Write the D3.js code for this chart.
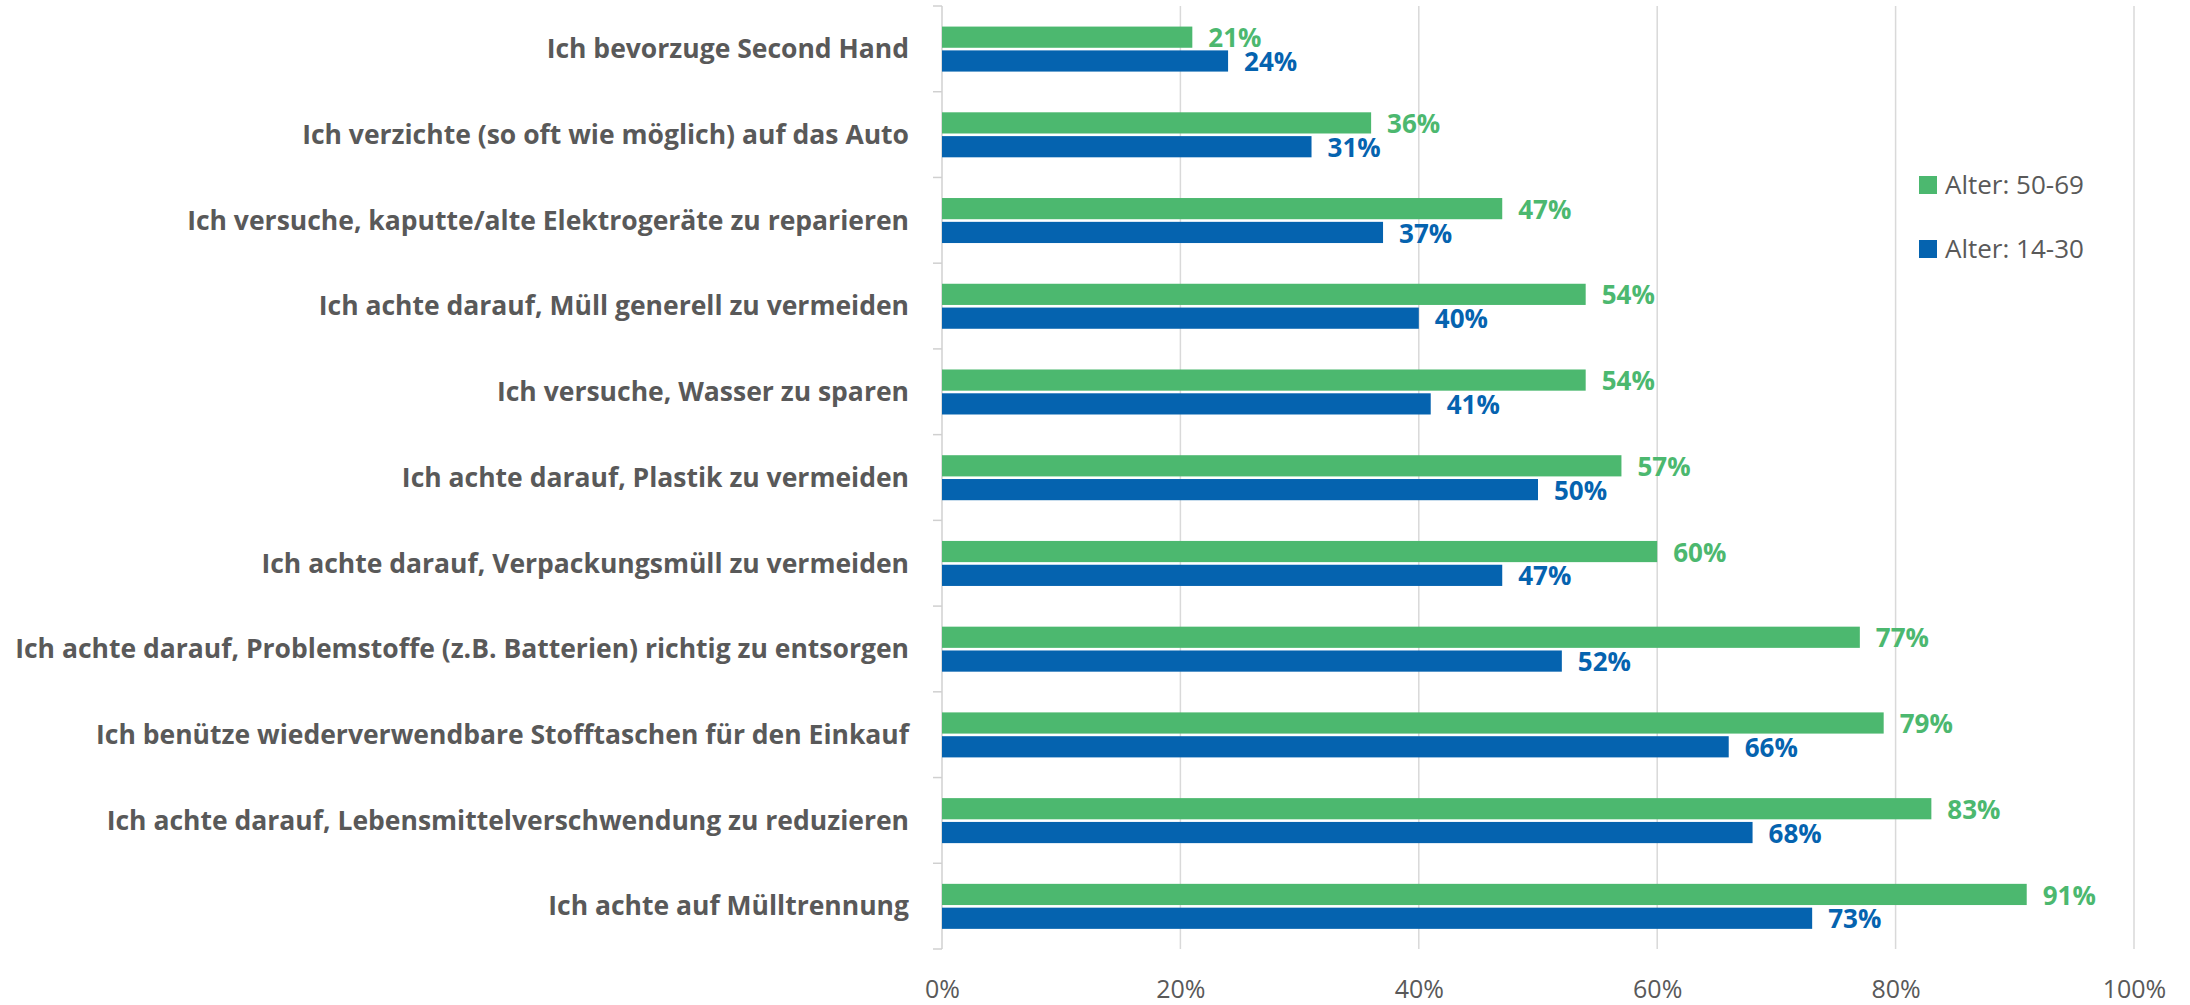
<!DOCTYPE html>
<html>
<head>
<meta charset="utf-8">
<script src="https://cdn.jsdelivr.net/npm/d3@7"></script>
<style>
  html, body { margin: 0; padding: 0; background: #fff; }
  svg { display: block; }
</style>
</head>
<body>
<div class="canvas"></div>
<script>
// data
const categories = [
  'Ich bevorzuge Second Hand',
  'Ich verzichte (so oft wie möglich) auf das Auto',
  'Ich versuche, kaputte/alte Elektrogeräte zu reparieren',
  'Ich achte darauf, Müll generell zu vermeiden',
  'Ich versuche, Wasser zu sparen',
  'Ich achte darauf, Plastik zu vermeiden',
  'Ich achte darauf, Verpackungsmüll zu vermeiden',
  'Ich achte darauf, Problemstoffe (z.B. Batterien) richtig zu entsorgen',
  'Ich benütze wiederverwendbare Stofftaschen für den Einkauf',
  'Ich achte darauf, Lebensmittelverschwendung zu reduzieren',
  'Ich achte auf Mülltrennung'
];
const seriesNames = ['Alter: 50-69', 'Alter: 14-30'];
const older = [21, 36, 47, 54, 54, 57, 60, 77, 79, 83, 91];
const younger = [24, 31, 37, 40, 41, 50, 47, 52, 66, 68, 73];
const xTicks = [0, 20, 40, 60, 80, 100];

// ! ------------------------------- graph
const dims = {
  width: 2190,
  height: 1005,
  left: 942,
  top: 6,
  plotWidth: 1192,
  plotHeight: 943,
  font: '"Open Sans", "DejaVu Sans", sans-serif'
};

const colors = { 'Alter: 50-69': '#4cb86f', 'Alter: 14-30': '#0563af' };
const grey = '#595959';

const svg = d3.select('.canvas')
  .append('svg')
  .attr('width', dims.width)
  .attr('height', dims.height);

const graph = svg.append('g')
  .attr('transform', `translate(${dims.left}, ${dims.top})`);

// scales
const x = d3.scaleLinear().domain([0, 100]).range([0, dims.plotWidth]);
const y0 = d3.scaleBand().domain(categories).range([0, dims.plotHeight]);
const bh = y0.bandwidth();
const y1 = d3.scaleBand().domain(seriesNames)
  .range([bh * 0.24, bh * 0.765])
  .paddingInner(0.11);

// gridlines
graph.append('g')
  .selectAll('line')
  .data(xTicks.slice(1))
  .join('line')
  .attr('x1', d => x(d)).attr('x2', d => x(d))
  .attr('y1', 0).attr('y2', dims.plotHeight)
  .attr('stroke', '#d9d9d9')
  .attr('stroke-width', 1.5);

// left axis line + boundary ticks
const bounds = categories.map(c => y0(c)).concat([dims.plotHeight]);
graph.append('line')
  .attr('x1', 0).attr('x2', 0)
  .attr('y1', 0).attr('y2', dims.plotHeight)
  .attr('stroke', '#d0d0d0').attr('stroke-width', 1.5);
graph.append('g')
  .selectAll('line')
  .data(bounds)
  .join('line')
  .attr('x1', -9).attr('x2', 0)
  .attr('y1', d => d).attr('y2', d => d)
  .attr('stroke', '#d0d0d0').attr('stroke-width', 1.5);

// category labels
graph.append('g')
  .selectAll('text')
  .data(categories)
  .join('text')
  .attr('x', -33)
  .attr('y', d => y0(d) + bh / 2)
  .attr('dy', '0.35em')
  .attr('text-anchor', 'end')
  .attr('fill', grey)
  .attr('font-family', dims.font)
  .attr('font-weight', 'bold')
  .attr('font-size', 26.5)
  .text(d => d);

// bars
const rows = categories.map((c, i) => ({
  key: c,
  values: [
    { series: seriesNames[0], value: older[i] },
    { series: seriesNames[1], value: younger[i] }
  ]
}));

const groups = graph.append('g')
  .selectAll('g')
  .data(rows)
  .join('g')
  .attr('transform', d => `translate(0, ${y0(d.key)})`);

groups.selectAll('rect')
  .data(d => d.values)
  .join('rect')
  .attr('x', 0)
  .attr('y', d => y1(d.series))
  .attr('width', d => x(d.value))
  .attr('height', y1.bandwidth())
  .attr('fill', d => colors[d.series]);

groups.selectAll('text')
  .data(d => d.values)
  .join('text')
  .attr('x', d => x(d.value) + 16)
  .attr('y', d => y1(d.series) + y1.bandwidth() / 2 + 1)
  .attr('dy', '0.35em')
  .attr('fill', d => colors[d.series])
  .attr('font-family', dims.font)
  .attr('font-weight', 'bold')
  .attr('font-size', 26)
  .text(d => d.value + '%');

// x axis
const xAxis = d3.axisBottom(x)
  .tickValues(xTicks)
  .tickSize(0)
  .tickFormat(d => d + '%');

const xAxisGroup = graph.append('g')
  .attr('transform', `translate(0, ${dims.plotHeight})`)
  .call(xAxis);
xAxisGroup.select('.domain').remove();
xAxisGroup.selectAll('text')
  .attr('y', 40)
  .attr('dy', '0.35em')
  .attr('fill', grey)
  .attr('font-family', dims.font)
  .attr('font-size', 25);

// legend
const legend = svg.append('g')
  .attr('transform', 'translate(1919, 185)');
const items = legend.selectAll('g')
  .data(seriesNames)
  .join('g')
  .attr('transform', (d, i) => `translate(0, ${i * 64})`);
items.append('rect')
  .attr('x', 0).attr('y', -9)
  .attr('width', 18).attr('height', 18)
  .attr('fill', d => colors[d]);
items.append('text')
  .attr('x', 26).attr('y', 0)
  .attr('dy', '0.35em')
  .attr('fill', grey)
  .attr('font-family', dims.font)
  .attr('font-size', 26)
  .text(d => d);
</script>
</body>
</html>
